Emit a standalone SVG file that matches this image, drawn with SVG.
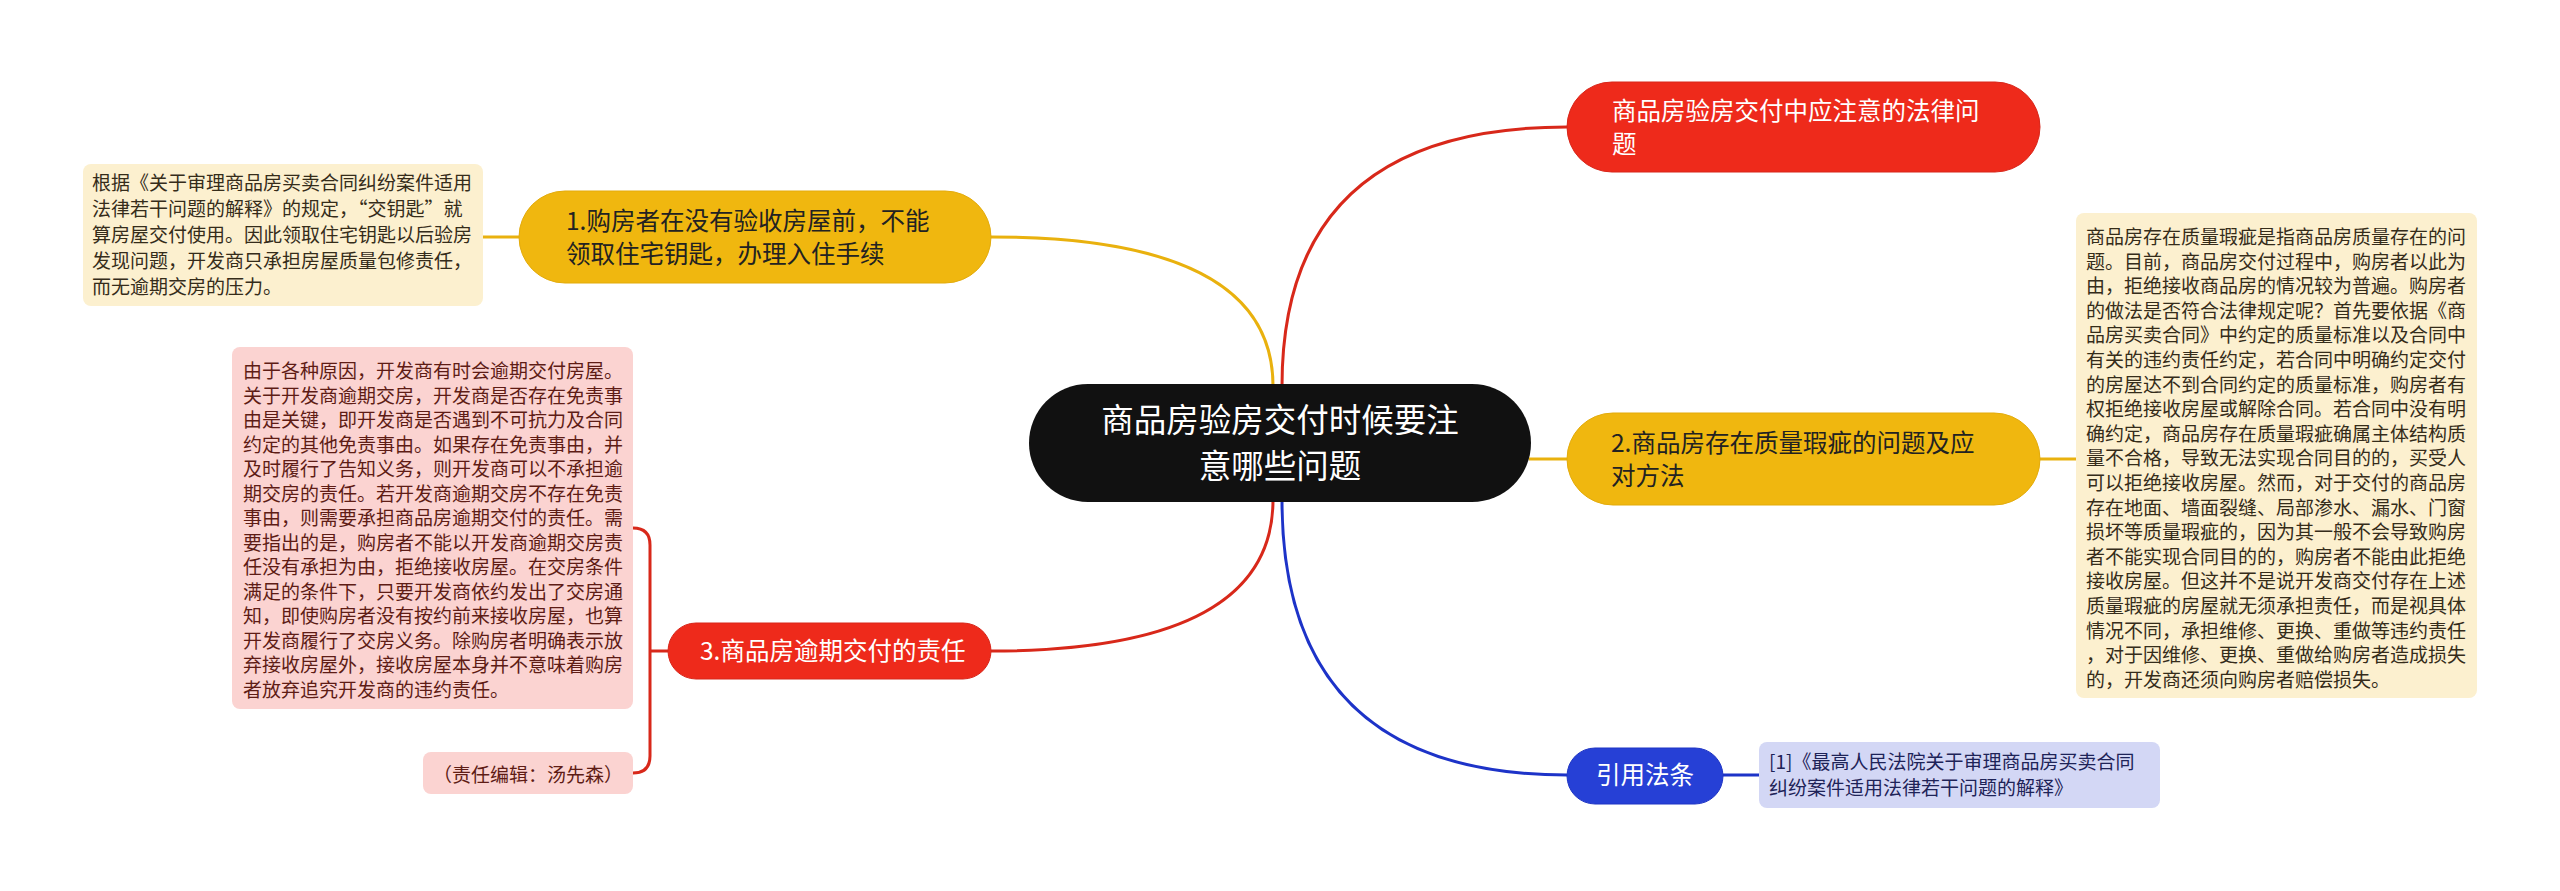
<svg xmlns="http://www.w3.org/2000/svg" width="2560" height="891" viewBox="0 0 2560 891">
<style>
text{font-family:"Noto Sans CJK SC","Noto Sans",sans-serif}
.ctr{fill:#111111}
.red{fill:#EE2A1B;stroke:#D8261A;stroke-width:1}
.yel{fill:#F0B70F;stroke:#E3AB0B;stroke-width:1}
.blu{fill:#2640D6;stroke:#1F35C4;stroke-width:1}
.ny{fill:#FCF0CF}
.np{fill:#FBD3D1}
.nb{fill:#D3D7F5}
.tw{fill:#FFFFFF}
.td{fill:#222222}
.t1{font-size:24.5px}
.t0{font-size:32.5px}
.tn{font-size:19px}
.ty{fill:#352C1A}
.tp{fill:#5E1C15}
.tb{fill:#1E2358}
.cy{fill:none;stroke:#E9B10E;stroke-width:3}
.cr{fill:none;stroke:#D8281A;stroke-width:3}
.cb{fill:none;stroke:#1D33C8;stroke-width:3}
</style>
<rect width="2560" height="891" fill="#FFFFFF"/>
<g id="connectors">
<path class="cy" d="M1273 386 Q1273 237 991 237"/>
<path class="cr" d="M1282 386 Q1282 127 1567 127"/>
<path class="cy" d="M1529 459 L1567 459"/>
<path class="cr" d="M1273 500 Q1273 651 991 651"/>
<path class="cb" d="M1282 500 Q1282 775 1567 775"/>
<path class="cy" d="M519 237 L483 237"/>
<path class="cy" d="M2040 459 L2076 459"/>
<path class="cb" d="M1723 775 L1759 775"/>
<path class="cr" d="M668 651 L650 651 M633 528 Q650 528 650 545 L650 756 Q650 773 633 773"/>
</g>
<g id="central">
<rect class="ctr" x="1029" y="384" width="502" height="118" rx="59"/>
<text class="tw t0" x="1280" y="432" text-anchor="middle">商品房验房交付时候要注</text>
<text class="tw t0" x="1280" y="478" text-anchor="middle">意哪些问题</text>
</g>
<g id="n-law">
<rect class="red" x="1567" y="82" width="473" height="90" rx="45"/>
<text class="tw t1" x="1612" y="120">商品房验房交付中应注意的法律问</text>
<text class="tw t1" x="1612" y="153">题</text>
</g>
<g id="n1">
<rect class="yel" x="519" y="191" width="472" height="92" rx="46"/>
<text class="td t1" x="566" y="230">1.购房者在没有验收房屋前，不能</text>
<text class="td t1" x="566" y="263">领取住宅钥匙，办理入住手续</text>
</g>
<g id="n1-note">
<rect class="ny" x="83" y="164" width="400" height="142" rx="8"/>
<text class="tn ty" x="92" y="190">根据《关于审理商品房买卖合同纠纷案件适用</text>
<text class="tn ty" x="92" y="216">法律若干问题的解释》的规定，“交钥匙”就</text>
<text class="tn ty" x="92" y="242">算房屋交付使用。因此领取住宅钥匙以后验房</text>
<text class="tn ty" x="92" y="268">发现问题，开发商只承担房屋质量包修责任，</text>
<text class="tn ty" x="92" y="294">而无逾期交房的压力。</text>
</g>
<g id="n2">
<rect class="yel" x="1567" y="413" width="473" height="92" rx="46"/>
<text class="td t1" x="1611" y="452">2.商品房存在质量瑕疵的问题及应</text>
<text class="td t1" x="1611" y="485">对方法</text>
</g>
<g id="n2-note">
<rect class="ny" x="2076" y="213" width="401" height="485" rx="8"/>
<text class="tn ty" x="2086" y="244">商品房存在质量瑕疵是指商品房质量存在的问</text>
<text class="tn ty" x="2086" y="268.6">题。目前，商品房交付过程中，购房者以此为</text>
<text class="tn ty" x="2086" y="293.2">由，拒绝接收商品房的情况较为普遍。购房者</text>
<text class="tn ty" x="2086" y="317.8">的做法是否符合法律规定呢？首先要依据《商</text>
<text class="tn ty" x="2086" y="342.4">品房买卖合同》中约定的质量标准以及合同中</text>
<text class="tn ty" x="2086" y="367">有关的违约责任约定，若合同中明确约定交付</text>
<text class="tn ty" x="2086" y="391.6">的房屋达不到合同约定的质量标准，购房者有</text>
<text class="tn ty" x="2086" y="416.2">权拒绝接收房屋或解除合同。若合同中没有明</text>
<text class="tn ty" x="2086" y="440.8">确约定，商品房存在质量瑕疵确属主体结构质</text>
<text class="tn ty" x="2086" y="465.4">量不合格，导致无法实现合同目的的，买受人</text>
<text class="tn ty" x="2086" y="490">可以拒绝接收房屋。然而，对于交付的商品房</text>
<text class="tn ty" x="2086" y="514.6">存在地面、墙面裂缝、局部渗水、漏水、门窗</text>
<text class="tn ty" x="2086" y="539.2">损坏等质量瑕疵的，因为其一般不会导致购房</text>
<text class="tn ty" x="2086" y="563.8">者不能实现合同目的的，购房者不能由此拒绝</text>
<text class="tn ty" x="2086" y="588.4">接收房屋。但这并不是说开发商交付存在上述</text>
<text class="tn ty" x="2086" y="613">质量瑕疵的房屋就无须承担责任，而是视具体</text>
<text class="tn ty" x="2086" y="637.6">情况不同，承担维修、更换、重做等违约责任</text>
<text class="tn ty" x="2086" y="662.2">，对于因维修、更换、重做给购房者造成损失</text>
<text class="tn ty" x="2086" y="686.8">的，开发商还须向购房者赔偿损失。</text>
</g>
<g id="n3">
<rect class="red" x="668" y="623" width="323" height="56" rx="28"/>
<text class="tw t1" x="700" y="660">3.商品房逾期交付的责任</text>
</g>
<g id="n3-note">
<rect class="np" x="232" y="347" width="401" height="362" rx="8"/>
<text class="tn tp" x="243" y="378">由于各种原因，开发商有时会逾期交付房屋。</text>
<text class="tn tp" x="243" y="402.5">关于开发商逾期交房，开发商是否存在免责事</text>
<text class="tn tp" x="243" y="427">由是关键，即开发商是否遇到不可抗力及合同</text>
<text class="tn tp" x="243" y="451.5">约定的其他免责事由。如果存在免责事由，并</text>
<text class="tn tp" x="243" y="476">及时履行了告知义务，则开发商可以不承担逾</text>
<text class="tn tp" x="243" y="500.5">期交房的责任。若开发商逾期交房不存在免责</text>
<text class="tn tp" x="243" y="525">事由，则需要承担商品房逾期交付的责任。需</text>
<text class="tn tp" x="243" y="549.5">要指出的是，购房者不能以开发商逾期交房责</text>
<text class="tn tp" x="243" y="574">任没有承担为由，拒绝接收房屋。在交房条件</text>
<text class="tn tp" x="243" y="598.5">满足的条件下，只要开发商依约发出了交房通</text>
<text class="tn tp" x="243" y="623">知，即使购房者没有按约前来接收房屋，也算</text>
<text class="tn tp" x="243" y="647.5">开发商履行了交房义务。除购房者明确表示放</text>
<text class="tn tp" x="243" y="672">弃接收房屋外，接收房屋本身并不意味着购房</text>
<text class="tn tp" x="243" y="696.5">者放弃追究开发商的违约责任。</text>
</g>
<g id="n3-editor">
<rect class="np" x="423" y="752" width="210" height="42" rx="8"/>
<text class="tn tp" x="528" y="782" text-anchor="middle">（责任编辑：汤先森）</text>
</g>
<g id="n-ref">
<rect class="blu" x="1567" y="748" width="156" height="56" rx="28"/>
<text class="tw t1" x="1645" y="784" text-anchor="middle">引用法条</text>
</g>
<g id="n-ref-note">
<rect class="nb" x="1759" y="742" width="401" height="66" rx="8"/>
<text class="tn tb" x="1769" y="769">[1]《最高人民法院关于审理商品房买卖合同</text>
<text class="tn tb" x="1769" y="795">纠纷案件适用法律若干问题的解释》</text>
</g>
</svg>
